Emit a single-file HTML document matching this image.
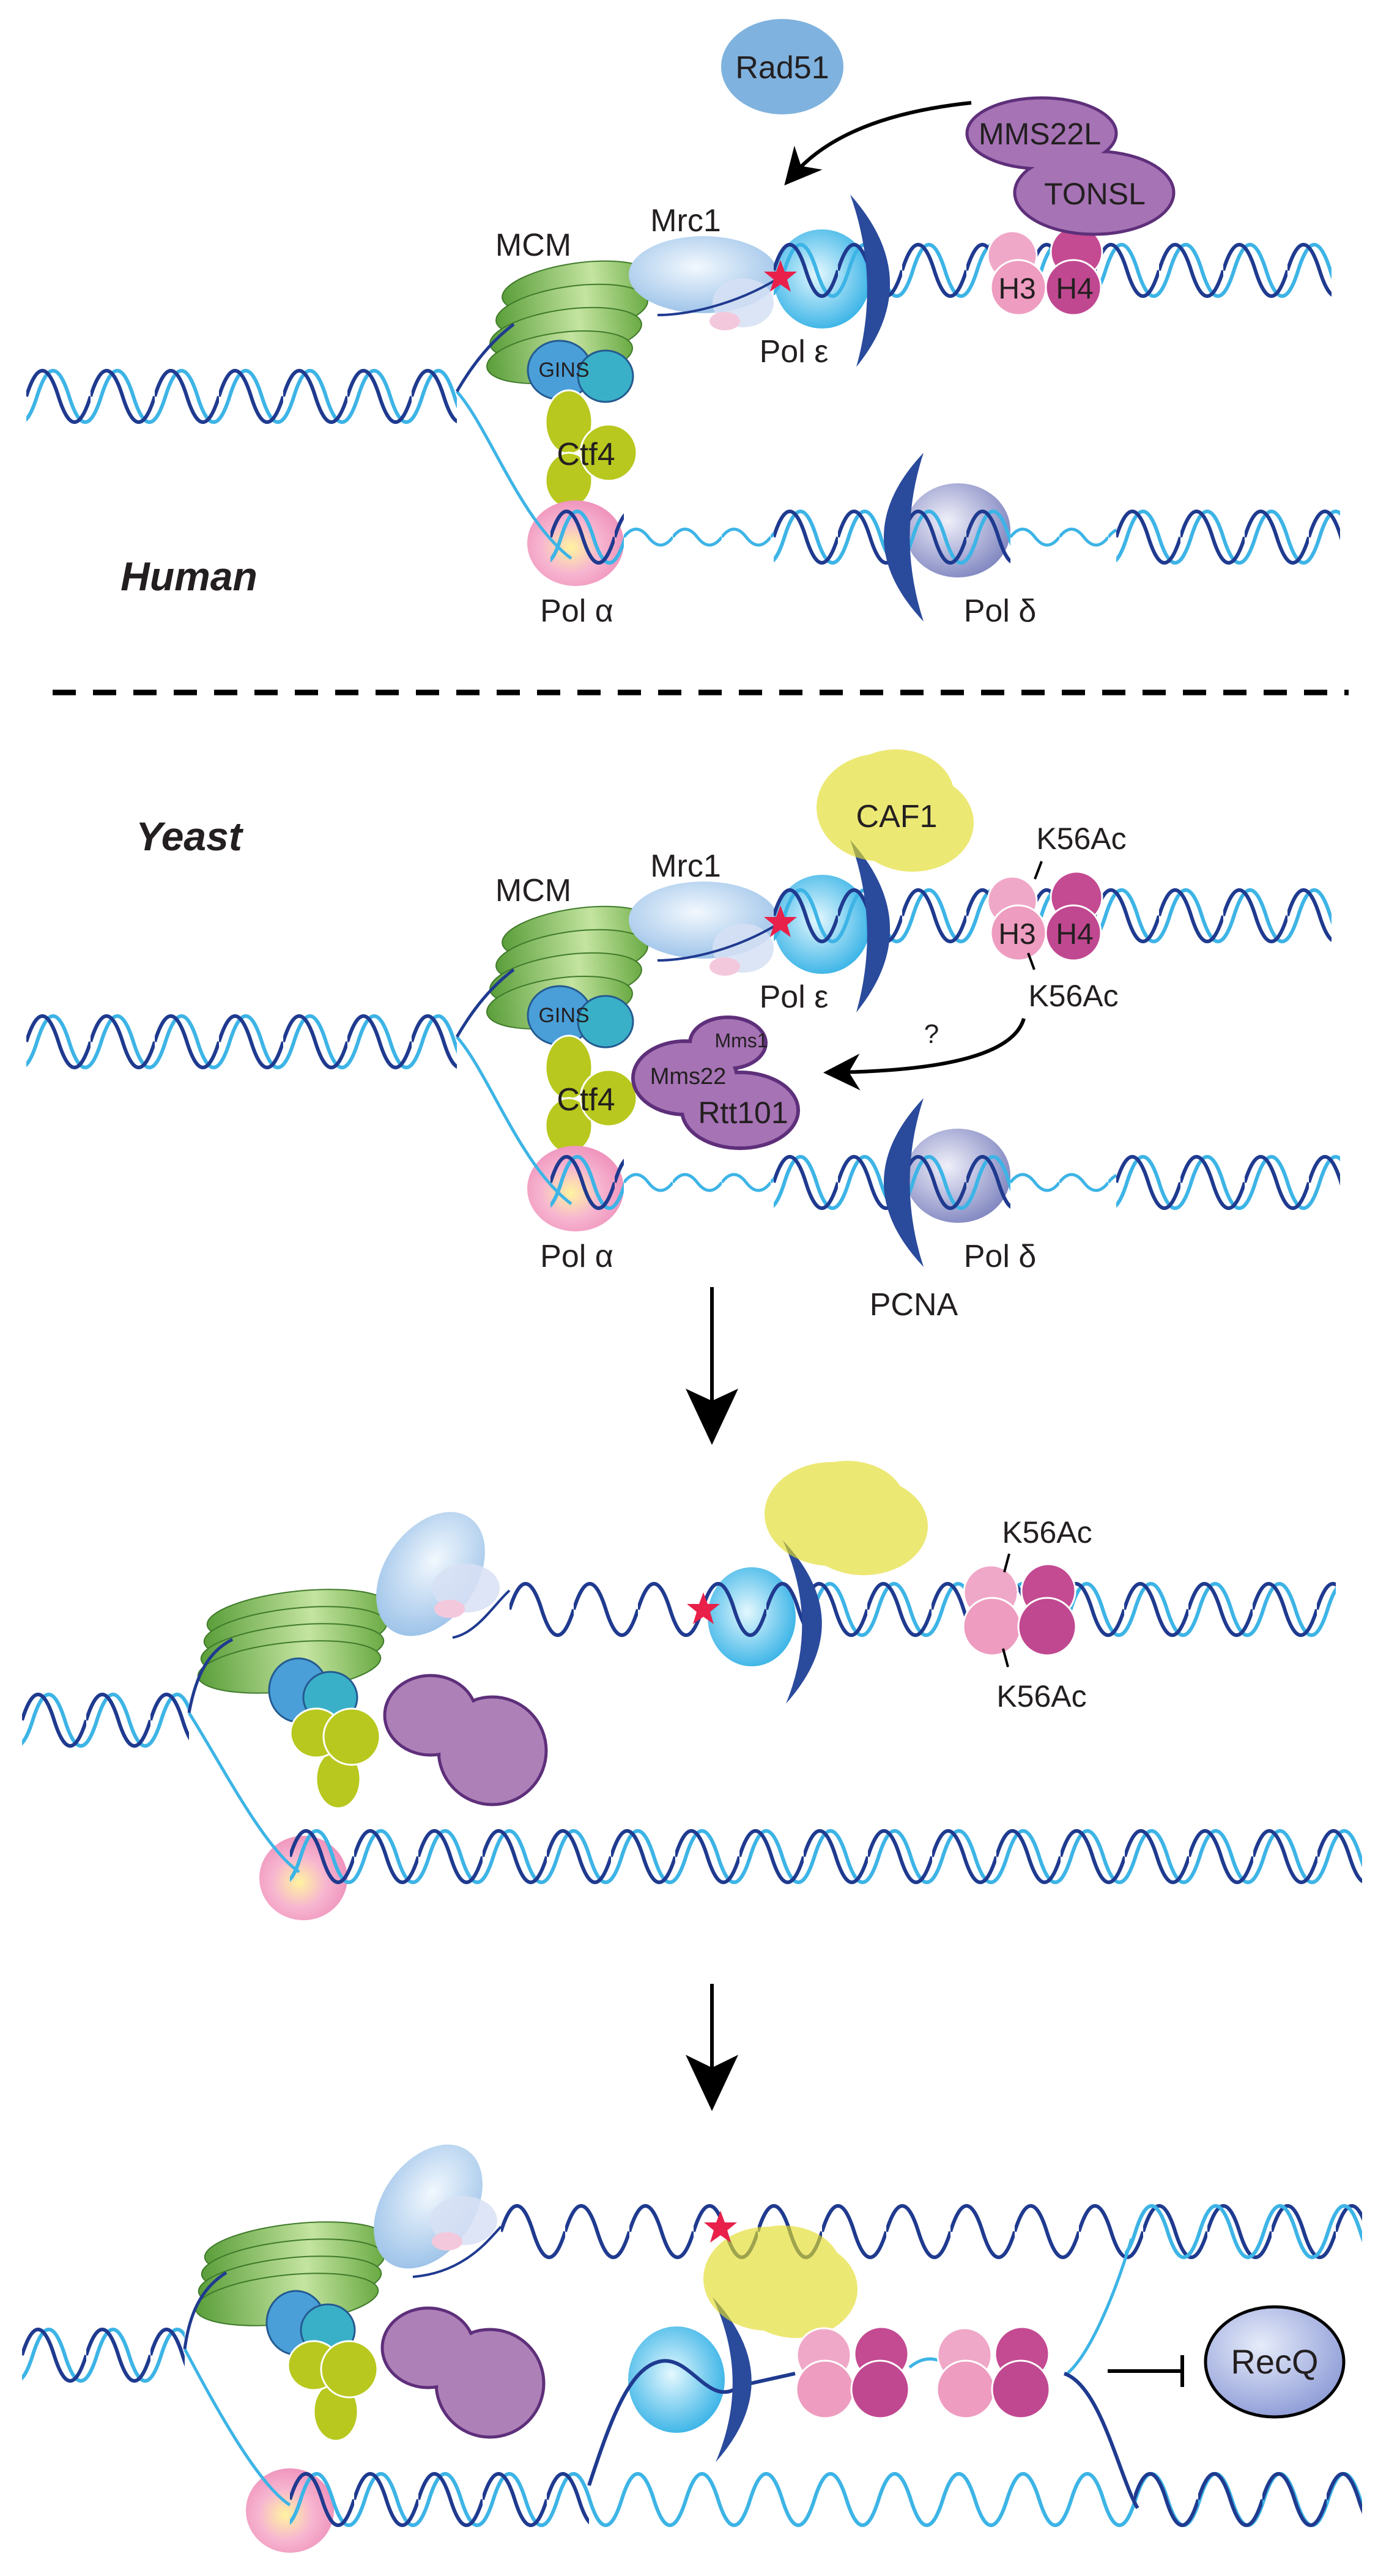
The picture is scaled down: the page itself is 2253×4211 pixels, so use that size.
<!DOCTYPE html>
<html><head><meta charset="utf-8"><style>html,body{margin:0;padding:0;background:#fff}svg{display:block}text{font-family:"Liberation Sans",sans-serif;fill:#231f20;text-anchor:middle}</style></head>
<body>
<svg width="2253" height="4211" viewBox="0 0 2253 4211" xmlns="http://www.w3.org/2000/svg">
<defs>
<pattern id="hx" width="105" height="100" y="-50" patternUnits="userSpaceOnUse">
 <path d="M-35,50 Q-8.75,134 17.5,50 T70,50 T122.5,50" stroke="#3db4e6" stroke-width="6" fill="none"/>
 <path d="M0,50 Q26.25,-34 52.5,50 T105,50" stroke="#1f3a8f" stroke-width="6" fill="none"/>
</pattern>
<pattern id="hd" width="105" height="100" y="-50" patternUnits="userSpaceOnUse">
 <path d="M0,50 Q26.25,-34 52.5,50 T105,50" stroke="#1f3a8f" stroke-width="6" fill="none"/>
</pattern>
<pattern id="hc" width="105" height="100" y="-50" patternUnits="userSpaceOnUse">
 <path d="M-35,50 Q-8.75,134 17.5,50 T70,50 T122.5,50" stroke="#3db4e6" stroke-width="6" fill="none"/>
</pattern>
<pattern id="hw" width="80" height="40" y="-20" patternUnits="userSpaceOnUse">
 <path d="M0,20 Q20,-6 40,20 T80,20" stroke="#3db4e6" stroke-width="5" fill="none"/>
</pattern>
<linearGradient id="gMCM" x1="0" x2="1" y1="0" y2="0"><stop offset="0" stop-color="#5a9e3a"/><stop offset=".6" stop-color="#c4e4a0"/><stop offset="1" stop-color="#6aaa44"/></linearGradient>
<radialGradient id="gMrc" cx=".45" cy=".4" r=".7"><stop offset="0" stop-color="#f2f8fe"/><stop offset="1" stop-color="#92bce6"/></radialGradient>
<radialGradient id="gE" cx=".45" cy=".45" r=".6"><stop offset="0" stop-color="#e4f8fe"/><stop offset="1" stop-color="#33b1e6"/></radialGradient>
<radialGradient id="gA" cx=".45" cy=".55" r=".6"><stop offset="0" stop-color="#fff3a0"/><stop offset=".5" stop-color="#f7b6d0"/><stop offset="1" stop-color="#ee8fba"/></radialGradient>
<radialGradient id="gD" cx=".4" cy=".4" r=".65"><stop offset="0" stop-color="#f0f0fa"/><stop offset="1" stop-color="#8086c0"/></radialGradient>
<radialGradient id="gR" cx=".4" cy=".35" r=".7"><stop offset="0" stop-color="#e6ecfa"/><stop offset="1" stop-color="#8c9ad6"/></radialGradient>
<marker id="ah" markerWidth="10" markerHeight="10" refX="6" refY="5" orient="auto" markerUnits="strokeWidth"><path d="M0,0 L10,5 L0,10 L3,5 Z" fill="#000"/></marker>

<g id="nuc">
 <circle cx="-47" cy="-28" r="44" fill="#f0a8c8" stroke="#fff" stroke-width="3"/>
 <circle cx="47" cy="-30" r="44" fill="#c44a92" stroke="#fff" stroke-width="3"/>
 <circle cx="-45" cy="28" r="47" fill="#ee9cc0" stroke="#fff" stroke-width="3"/>
 <circle cx="45" cy="28" r="47" fill="#c04890" stroke="#fff" stroke-width="3"/>
</g>

<g id="rep">
 <ellipse cx="10" cy="-42" rx="150" ry="40" fill="url(#gMCM)" stroke="#3f7a2a" stroke-width="2" transform="rotate(-6 10 -42)"/>
 <ellipse cx="5" cy="-14" rx="150" ry="40" fill="url(#gMCM)" stroke="#3f7a2a" stroke-width="2" transform="rotate(-6 5 -14)"/>
 <ellipse cx="0" cy="14" rx="150" ry="40" fill="url(#gMCM)" stroke="#3f7a2a" stroke-width="2" transform="rotate(-6 0 14)"/>
 <ellipse cx="-5" cy="42" rx="150" ry="40" fill="url(#gMCM)" stroke="#3f7a2a" stroke-width="2" transform="rotate(-6 -5 42)"/>
 <ellipse cx="226" cy="-110" rx="75" ry="112" fill="url(#gMrc)" transform="rotate(35 226 -110)"/>
 <ellipse cx="284" cy="-87" rx="55" ry="40" fill="#d8e0f4" opacity=".85"/>
 <ellipse cx="257" cy="-53" rx="25" ry="15" fill="#f4c8dc"/>
 <ellipse cx="327" cy="179" rx="88" ry="88" fill="#ad80b8" stroke="#5e2f7a" stroke-width="5"/>
 <ellipse cx="226" cy="121" rx="75" ry="65" fill="#ad80b8" stroke="#5e2f7a" stroke-width="5"/>
 <ellipse cx="327" cy="179" rx="85" ry="85" fill="#ad80b8"/>
 <ellipse cx="10" cy="80" rx="48" ry="52" fill="#4a9fd8" stroke="#245a90" stroke-width="3"/>
 <ellipse cx="62" cy="92" rx="44" ry="42" fill="#3ab0c8" stroke="#245a90" stroke-width="3"/>
 <ellipse cx="75" cy="225" rx="36" ry="48" fill="#b8c81e" stroke="#fff" stroke-width="3"/>
 <ellipse cx="39" cy="150" rx="42" ry="40" fill="#b8c81e" stroke="#fff" stroke-width="3"/>
 <circle cx="97" cy="156" r="46" fill="#b8c81e" stroke="#fff" stroke-width="3"/>
</g>

<g id="core">
 <ellipse cx="945" cy="470" rx="125" ry="40" fill="url(#gMCM)" stroke="#3f7a2a" stroke-width="2" transform="rotate(-8 945 470)"/>
 <ellipse cx="935" cy="508" rx="125" ry="40" fill="url(#gMCM)" stroke="#3f7a2a" stroke-width="2" transform="rotate(-8 935 508)"/>
 <ellipse cx="925" cy="546" rx="125" ry="40" fill="url(#gMCM)" stroke="#3f7a2a" stroke-width="2" transform="rotate(-8 925 546)"/>
 <ellipse cx="915" cy="584" rx="120" ry="40" fill="url(#gMCM)" stroke="#3f7a2a" stroke-width="2" transform="rotate(-8 915 584)"/>
 <ellipse cx="1150" cy="449" rx="122" ry="63" fill="url(#gMrc)"/>
 <ellipse cx="1215" cy="495" rx="50" ry="40" fill="#d6e0f4" opacity=".85"/>
 <ellipse cx="1185" cy="525" rx="25" ry="15" fill="#f4c8dc"/>
 <ellipse cx="915" cy="605" rx="52" ry="48" fill="#4a9fd8" stroke="#245a90" stroke-width="3"/>
 <ellipse cx="990" cy="615" rx="45" ry="42" fill="#3ab0c8" stroke="#245a90" stroke-width="3"/>
 <ellipse cx="930" cy="690" rx="38" ry="52" fill="#b8c81e" stroke="#fff" stroke-width="3"/>
 <ellipse cx="930" cy="785" rx="38" ry="45" fill="#b8c81e" stroke="#fff" stroke-width="3"/>
 <circle cx="995" cy="740" r="46" fill="#b8c81e" stroke="#fff" stroke-width="3"/>
 <ellipse cx="941" cy="888" rx="79" ry="70" fill="url(#gA)"/>
 <ellipse cx="1344" cy="456" rx="79" ry="81" fill="url(#gE)"/>
 <ellipse cx="1566" cy="867" rx="86" ry="77" fill="url(#gD)"/>
 <g transform="translate(1265,442)"><rect y="-50" width="912" height="100" fill="url(#hx)"/></g>
 <g transform="translate(43,648)"><rect y="-50" width="704" height="100" fill="url(#hx)"/></g>
 <path d="M747,640 C800,700 850,850 934,913" stroke="#3db4e6" stroke-width="5" fill="none"/>
 <path d="M747,640 C770,600 800,560 840,530" stroke="#1f3a8f" stroke-width="5" fill="none"/>
 <path d="M1276,453 C1200,500 1120,515 1075,515" stroke="#1f3a8f" stroke-width="4" fill="none"/>
 <g transform="translate(900,878)"><rect y="-50" width="120" height="100" fill="url(#hx)"/></g>
 <g transform="translate(1020,878)"><rect y="-20" width="245" height="40" fill="url(#hw)"/></g>
 <g transform="translate(1265,878)"><rect y="-50" width="387" height="100" fill="url(#hx)"/></g>
 <g transform="translate(1652,878)"><rect y="-20" width="173" height="40" fill="url(#hw)"/></g>
 <g transform="translate(1825,878)"><rect y="-50" width="366" height="100" fill="url(#hx)"/></g>
 <path d="M1390,318 Q1515,458 1400,600 Q1440,458 1390,318 Z" fill="#2a4a9c"/>
 <path d="M1510,740 Q1380,878 1510,1016 Q1465,878 1510,740 Z" fill="#2a4a9c"/>
 <circle cx="1655" cy="418" r="40" fill="#f0a8c8" stroke="#fff" stroke-width="3"/>
 <circle cx="1760" cy="412" r="42" fill="#c44a92" stroke="#fff" stroke-width="3"/>
 <circle cx="1665" cy="470" r="45" fill="#ee9cc0" stroke="#fff" stroke-width="3"/>
 <circle cx="1755" cy="470" r="45" fill="#c04890" stroke="#fff" stroke-width="3"/>
 <text x="1663" y="488" font-size="48">H3</text>
 <text x="1757" y="488" font-size="48">H4</text>
 <polygon points="1276,425 1283,444 1303,444 1287,457 1293,477 1276,465 1259,477 1265,457 1249,444 1269,444" fill="#e8204a"/>
 <text x="1121" y="378" font-size="52">Mrc1</text>
 <text x="872" y="418" font-size="52">MCM</text>
 <text x="922" y="616" font-size="34">GINS</text>
 <text x="958" y="760" font-size="52">Ctf4</text>
 <text x="1298" y="592" font-size="52">Pol ε</text>
 <text x="943" y="1016" font-size="52">Pol α</text>
 <text x="1635" y="1016" font-size="52">Pol δ</text>
</g>
</defs>

<use href="#core"/>
<ellipse cx="1279" cy="109" rx="100" ry="78" fill="#7fb2de"/>
<text x="1279" y="128" font-size="52">Rad51</text>
<ellipse cx="1789" cy="315" rx="130" ry="68" fill="#a673b5" stroke="#5e2f7a" stroke-width="5"/>
<ellipse cx="1703" cy="218" rx="122" ry="58" fill="#a673b5" stroke="#5e2f7a" stroke-width="5"/>
<ellipse cx="1789" cy="315" rx="127" ry="65" fill="#a673b5"/>
<text x="1700" y="236" font-size="50">MMS22L</text>
<text x="1790" y="334" font-size="50">TONSL</text>
<path d="M1588,168 Q1380,190 1298,285" stroke="#000" stroke-width="6" fill="none" marker-end="url(#ah)"/>
<text x="309" y="965" font-size="66" font-weight="bold" font-style="italic">Human</text>

<line x1="86" y1="1132" x2="2205" y2="1132" stroke="#000" stroke-width="9" stroke-dasharray="38,28"/>

<use href="#core" transform="translate(0,1055)"/>
<g opacity=".65" fill="#e2dc2a">
 <ellipse cx="1440" cy="1320" rx="105" ry="88"/>
 <ellipse cx="1492" cy="1345" rx="100" ry="80"/>
 <ellipse cx="1465" cy="1300" rx="95" ry="75"/>
</g>
<text x="1466" y="1352" font-size="52">CAF1</text>
<text x="309" y="1390" font-size="66" font-weight="bold" font-style="italic">Yeast</text>
<text x="1768" y="1388" font-size="50">K56Ac</text>
<line x1="1703" y1="1408" x2="1692" y2="1437" stroke="#000" stroke-width="4"/>
<line x1="1681" y1="1558" x2="1691" y2="1585" stroke="#000" stroke-width="4"/>
<text x="1755" y="1645" font-size="50">K56Ac</text>
<text x="1523" y="1705" font-size="44">?</text>
<path d="M1674,1665 Q1650,1748 1370,1753" stroke="#000" stroke-width="6" fill="none" marker-end="url(#ah)"/>
<g stroke="#5e2f7a" stroke-width="6" fill="#a673b5">
 <ellipse cx="1190" cy="1705" rx="62" ry="42"/>
 <ellipse cx="1120" cy="1762" rx="85" ry="60"/>
 <ellipse cx="1210" cy="1815" rx="95" ry="62"/>
</g>
<g fill="#a673b5">
 <ellipse cx="1190" cy="1705" rx="59" ry="39"/>
 <ellipse cx="1120" cy="1762" rx="82" ry="57"/>
 <ellipse cx="1210" cy="1815" rx="92" ry="59"/>
</g>
<text x="1212" y="1712" font-size="32">Mms1</text>
<text x="1125" y="1772" font-size="38">Mms22</text>
<text x="1215" y="1836" font-size="50">Rtt101</text>
<text x="1494" y="2150" font-size="52">PCNA</text>

<line x1="1164" y1="2104" x2="1164" y2="2290" stroke="#000" stroke-width="6"/>
<polygon points="1164,2362 1121,2270 1164,2290 1207,2270" fill="#000"/>

<use href="#rep" transform="translate(478,2683)"/>
<ellipse cx="496" cy="3070" rx="72" ry="69" fill="url(#gA)"/>
<ellipse cx="1229" cy="2643" rx="72" ry="81" fill="url(#gE)"/>
<g transform="translate(36,2812)"><rect y="-50" width="273" height="100" fill="url(#hx)"/></g>
<path d="M309,2800 C360,2880 430,3020 489,3060" stroke="#3db4e6" stroke-width="5" fill="none"/>
<path d="M309,2800 C320,2740 340,2700 380,2680" stroke="#1f3a8f" stroke-width="5" fill="none"/>
<path d="M740,2677 C780,2670 810,2620 833,2600" stroke="#1f3a8f" stroke-width="4" fill="none"/>
<g transform="translate(833,2631)"><rect y="-50" width="480" height="100" fill="url(#hd)"/></g>
<g transform="translate(1313,2631)"><rect y="-50" width="871" height="100" fill="url(#hx)"/></g>
<g transform="translate(474,3035)"><rect y="-50" width="1753" height="100" fill="url(#hx)"/></g>
<path d="M1280,2518 Q1405,2651 1285,2785 Q1340,2651 1280,2518 Z" fill="#2a4a9c"/>
<g opacity=".65" fill="#e2dc2a">
 <ellipse cx="1360" cy="2475" rx="110" ry="85"/>
 <ellipse cx="1412" cy="2495" rx="105" ry="80"/>
 <ellipse cx="1385" cy="2458" rx="95" ry="70"/>
</g>
<use href="#nuc" transform="translate(1667,2631)"/>
<polygon points="1150,2603 1157,2622 1177,2622 1161,2635 1167,2655 1150,2643 1133,2655 1139,2635 1123,2622 1143,2622" fill="#e8204a"/>
<text x="1712" y="2522" font-size="50">K56Ac</text>
<line x1="1650" y1="2540" x2="1642" y2="2570" stroke="#000" stroke-width="4"/>
<line x1="1640" y1="2695" x2="1648" y2="2725" stroke="#000" stroke-width="4"/>
<text x="1703" y="2790" font-size="50">K56Ac</text>

<line x1="1164" y1="3243" x2="1164" y2="3380" stroke="#000" stroke-width="6"/>
<polygon points="1164,3451 1121,3359 1164,3380 1207,3359" fill="#000"/>

<use href="#rep" transform="translate(474,3717)"/>
<ellipse cx="474" cy="4104" rx="72" ry="69" fill="url(#gA)"/>
<ellipse cx="1106" cy="3890" rx="79" ry="87" fill="url(#gE)"/>
<g transform="translate(36,3850)"><rect y="-50" width="266" height="100" fill="url(#hx)"/></g>
<path d="M302,3840 C350,3930 420,4060 474,4095" stroke="#3db4e6" stroke-width="5" fill="none"/>
<path d="M302,3840 C310,3780 330,3740 370,3715" stroke="#1f3a8f" stroke-width="5" fill="none"/>
<path d="M675,3722 C760,3715 800,3660 819,3640" stroke="#1f3a8f" stroke-width="4" fill="none"/>
<g transform="translate(819,3648)"><rect y="-50" width="1408" height="100" fill="url(#hd)"/></g>
<g transform="translate(1839,3648)"><rect y="-50" width="388" height="100" fill="url(#hc)"/></g>
<path d="M1850,3660 C1820,3760 1780,3850 1745,3880" stroke="#3db4e6" stroke-width="5" fill="none"/>
<g transform="translate(474,4086)"><rect y="-50" width="1753" height="100" fill="url(#hc)"/></g>
<g transform="translate(474,4086)"><rect y="-50" width="489" height="100" fill="url(#hd)"/></g>
<g transform="translate(1854,4086)"><rect y="-50" width="373" height="100" fill="url(#hd)"/></g>
<path d="M963,4063 C1000,3950 1030,3870 1080,3860 C1130,3850 1160,3940 1210,3900 L1300,3880" stroke="#1f3a8f" stroke-width="6" fill="none"/>
<path d="M1740,3880 C1800,3900 1830,4050 1860,4100" stroke="#1f3a8f" stroke-width="6" fill="none"/>
<path d="M1487,3870 Q1523,3840 1560,3875" stroke="#3db4e6" stroke-width="5" fill="none"/>
<path d="M1165,3755 Q1290,3890 1170,4025 Q1228,3890 1165,3755 Z" fill="#2a4a9c"/>
<g opacity=".65" fill="#e2dc2a">
 <ellipse cx="1255" cy="3725" rx="105" ry="85"/>
 <ellipse cx="1302" cy="3742" rx="100" ry="80"/>
 <ellipse cx="1280" cy="3708" rx="95" ry="70"/>
</g>
<use href="#nuc" transform="translate(1394,3878)"/>
<use href="#nuc" transform="translate(1624,3878)"/>
<polygon points="1178,3614 1185,3633 1205,3633 1189,3646 1195,3666 1178,3654 1161,3666 1167,3646 1151,3633 1171,3633" fill="#e8204a"/>
<line x1="1811" y1="3876" x2="1933" y2="3876" stroke="#000" stroke-width="6"/>
<line x1="1933" y1="3850" x2="1933" y2="3902" stroke="#000" stroke-width="6"/>
<ellipse cx="2084" cy="3861" rx="113" ry="90" fill="url(#gR)" stroke="#000" stroke-width="5"/>
<text x="2084" y="3880" font-size="56">RecQ</text>
</svg>
</body></html>
